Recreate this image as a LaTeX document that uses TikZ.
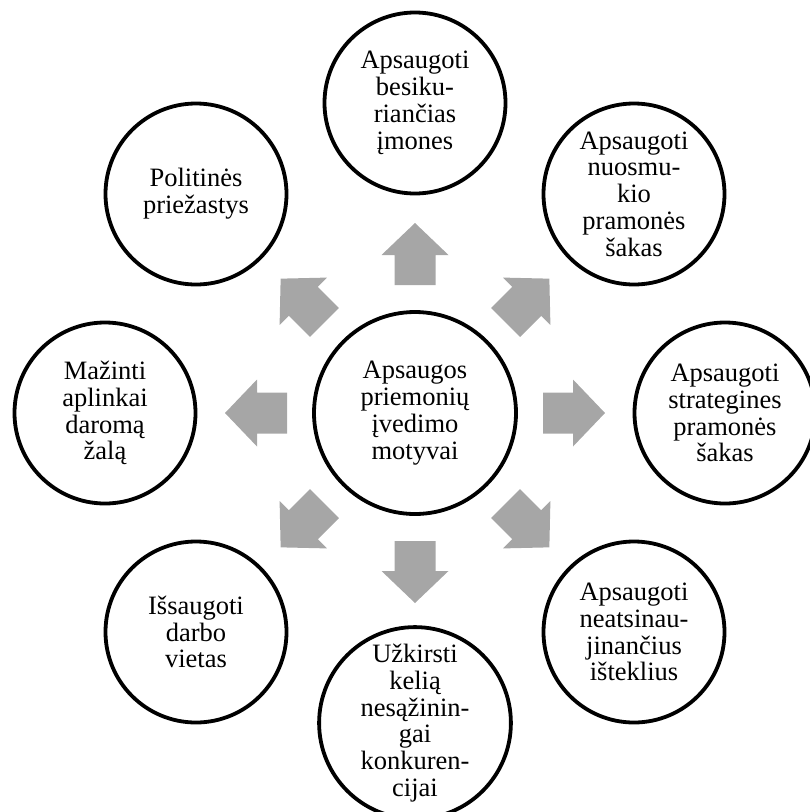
\documentclass[tikz,border=0pt]{standalone}
\usepackage{fontspec}
\setmainfont{Liberation Serif}
\definecolor{arrowgray}{RGB}{166,166,166}
\begin{document}
\begin{tikzpicture}[x=1pt,y=-1pt,
  bubble/.style={circle, draw=black, line width=3.8pt, fill=white,
    minimum size=181pt, inner sep=0pt, align=center,
    font=\fontsize{26.5}{26.8}\selectfont},
  hub/.style={bubble, minimum size=202pt},
  blkarrow/.style={fill=arrowgray, draw=none}]
\useasboundingbox (0,0) rectangle (810,812);
\clip (0,0) rectangle (810,812);
\node[hub] (c) at (415,413) {Apsaugos\\priemonių\\įvedimo\\motyvai};
\node[bubble] (n) at (415,103) {Apsaugoti\\besiku-\\riančias\\įmones};
\node[bubble] (ne) at (634,194) {Apsaugoti\\nuosmu-\\kio\\pramonės\\šakas};
\node[bubble] (e) at (725,413) {Apsaugoti\\strategines\\pramonės\\šakas};
\node[bubble] (se) at (634,632) {Apsaugoti\\neatsinau-\\jinančius\\išteklius};
\node[bubble] (s) at (415,723) {Užkirsti\\kelią\\nesąžinin-\\gai\\konkuren-\\cijai};
\node[bubble] (sw) at (196,632) {Išsaugoti\\darbo\\vietas};
\node[bubble] (w) at (105,413) {Mažinti\\aplinkai\\daromą\\žalą};
\node[bubble] (nw) at (196,194) {Politinės\\priežastys};
\foreach \a in {0,45,...,315}{
  \fill[blkarrow, shift={(c.center)}, rotate=\a]
    (128,-20.5) -- (158,-20.5) -- (158,-33.5) -- (190,0) --
    (158,33.5) -- (158,20.5) -- (128,20.5) -- cycle;
}
\end{tikzpicture}
\end{document}
